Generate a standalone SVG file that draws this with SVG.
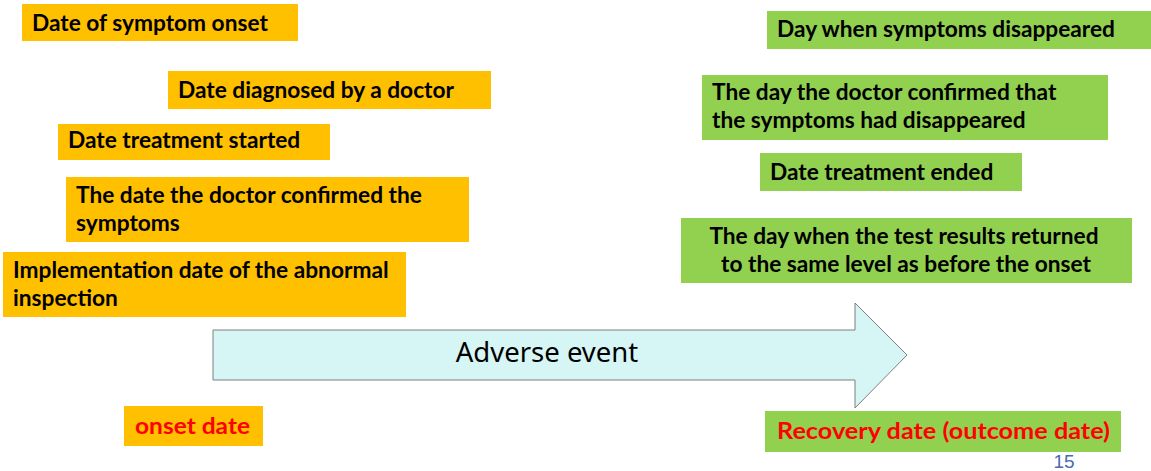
<svg xmlns="http://www.w3.org/2000/svg" width="1151" height="471" viewBox="0 0 1151 471">
<style>
.o{fill:#FFC000}
.g{fill:#92D050}
.t{font-family:Lato,"Liberation Sans",sans-serif;font-weight:bold;font-size:22.7px;fill:#000}
.r{font-family:Lato,"Liberation Sans",sans-serif;font-weight:bold;font-size:22.7px;fill:#FF0000}
.a{font-family:"Noto Sans","Liberation Sans",sans-serif;font-size:27.5px;fill:#000}
</style>
<rect width="1151" height="471" fill="#fff"/>
<g id="n1"><rect class="o" x="22" y="4" width="276" height="37"/><text class="t" x="32" y="31">Date of symptom onset</text></g>
<g id="n2"><rect class="o" x="168" y="71" width="323" height="38"/><text class="t" x="178" y="98">Date diagnosed by a doctor</text></g>
<g id="n3"><rect class="o" x="58" y="124" width="272" height="36"/><text class="t" x="68" y="148">Date treatment started</text></g>
<g id="n4"><rect class="o" x="66" y="177" width="403" height="65"/><text class="t" x="76" y="203">The date the doctor confirmed the</text><text class="t" x="76" y="231">symptoms</text></g>
<g id="n5"><rect class="o" x="3" y="252" width="403" height="65"/><text class="t" x="13" y="278">Implementation date of the abnormal</text><text class="t" x="13" y="306">inspection</text></g>
<g id="g1"><rect class="g" x="767" y="11" width="384" height="38"/><text class="t" x="777" y="37">Day when symptoms disappeared</text></g>
<g id="g2"><rect class="g" x="702" y="75" width="406" height="65"/><text class="t" x="712" y="100">The day the doctor confirmed that</text><text class="t" x="712" y="128">the symptoms had disappeared</text></g>
<g id="g3"><rect class="g" x="760" y="153" width="262" height="38"/><text class="t" x="770" y="180">Date treatment ended</text></g>
<g id="g4"><rect class="g" x="681" y="218" width="451" height="65"/><text class="t" x="904" y="244" text-anchor="middle">The day when the test results returned</text><text class="t" x="906" y="272" text-anchor="middle">to the same level as before the onset</text></g>
<g id="arrow"><path d="M213,330 H855 V303 L907,355 L855,408 V380 H213 Z" fill="#D6F5F5" stroke="#7F7F7F" stroke-width="1"/><text class="a" x="547" y="362" text-anchor="middle">Adverse event</text></g>
<g id="onset"><rect class="o" x="124" y="406" width="139" height="40"/><text class="r" x="135" y="434" textLength="115" lengthAdjust="spacingAndGlyphs">onset date</text></g>
<g id="recovery"><rect class="g" x="765" y="411" width="356" height="41"/><text class="r" x="777" y="439" textLength="333" lengthAdjust="spacingAndGlyphs">Recovery date (outcome date)</text></g>
<text x="1064" y="468" text-anchor="middle" font-family="Liberation Sans, sans-serif" font-size="19" fill="#4A6AAE">15</text>
</svg>
